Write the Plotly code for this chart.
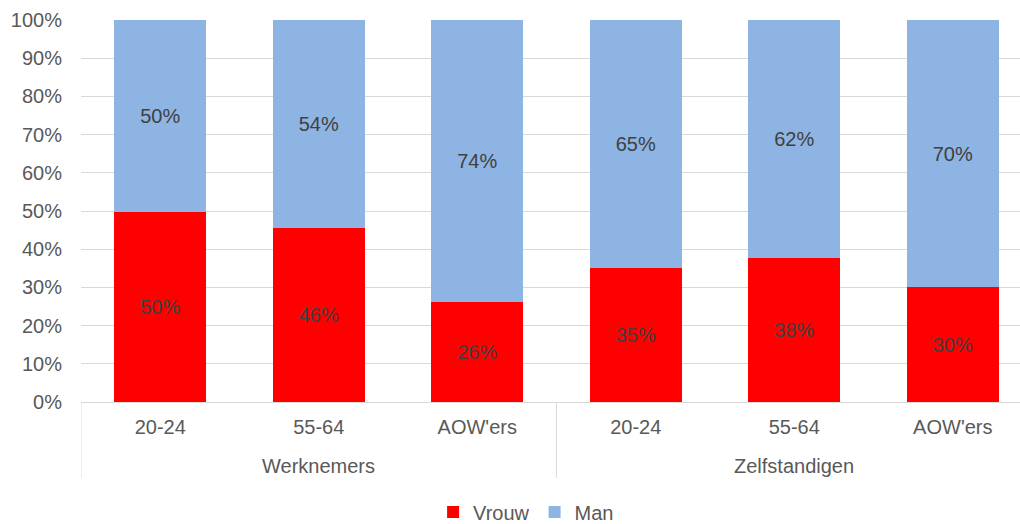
import plotly.graph_objects as go

groups = ["Werknemers", "Zelfstandigen"]
categories = ["20-24", "55-64", "AOW'ers", "20-24", "55-64", "AOW'ers"]
vrouw = [49.8, 45.6, 26.1, 35.1, 37.6, 30.1]
man = [50.2, 54.4, 73.9, 64.9, 62.4, 69.9]
y_ticks = list(range(0, 101, 10))

FONT = "Liberation Sans, Arial, sans-serif"
GREY = "#595959"
LINE = "#d9d9d9"

x_pos = list(range(len(categories)))

fig = go.Figure()
fig.add_trace(go.Bar(
    x=x_pos, y=vrouw, name="Vrouw",
    marker=dict(color="#ff0000", line=dict(width=0)),
    text=[f"{v:.0f}%" for v in vrouw], textposition="inside",
    insidetextanchor="middle", textangle=0,
    textfont=dict(color="#404040", size=20, family=FONT),
))
fig.add_trace(go.Bar(
    x=x_pos, y=man, name="Man",
    marker=dict(color="#8eb4e3", line=dict(width=0)),
    text=[f"{v:.0f}%" for v in man], textposition="inside",
    insidetextanchor="middle", textangle=0,
    textfont=dict(color="#404040", size=20, family=FONT),
))

# group labels and dividers below the axis
for gi, g in enumerate(groups):
    fig.add_annotation(x=gi * 3 + 1, y=-0.1675, xref="x", yref="paper",
                       text=g, showarrow=False, yanchor="middle",
                       font=dict(size=20, color=GREY, family=FONT))
for xd in [-0.5, 2.5, 5.5]:
    fig.add_shape(type="line", xref="x", yref="paper", x0=xd, x1=xd,
                  y0=0, y1=-0.199, line=dict(color=LINE, width=1))

fig.update_layout(
    width=1020, height=524,
    barmode="stack", bargap=0.42,
    margin=dict(l=81, r=0, t=20, b=122, autoexpand=False),
    paper_bgcolor="white", plot_bgcolor="white",
    font=dict(family=FONT, size=20, color=GREY),
    showlegend=True,
    legend=dict(orientation="h", x=0.474, xanchor="center",
                y=-0.288, yanchor="middle",
                font=dict(size=20, color=GREY),
                traceorder="normal"),
    xaxis=dict(range=[-0.5, 5.424], tickvals=x_pos, ticktext=categories,
               showline=True, linecolor=LINE, linewidth=1,
               showgrid=False, zeroline=False, ticks="",
               ticklabelstandoff=7,
               tickfont=dict(size=20, color=GREY)),
    yaxis=dict(range=[0, 100], tickvals=y_ticks,
               ticktext=[f"{t}%" for t in y_ticks],
               showgrid=True, gridcolor=LINE, gridwidth=1,
               zeroline=False, ticks="", ticklabelstandoff=18,
               tickfont=dict(size=20, color=GREY)),
)

fig.write_html(
    "out.html",
    config={"displayModeBar": False},
    post_script="document.body.style.margin='0';document.body.style.overflow='hidden';",
)
